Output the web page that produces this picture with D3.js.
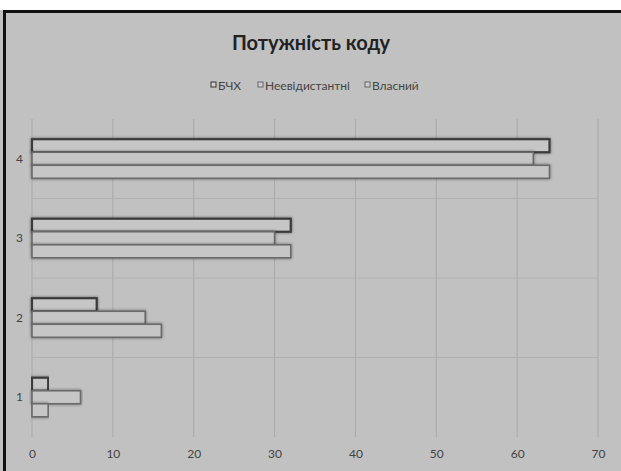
<!DOCTYPE html>
<html>
<head>
<meta charset="utf-8">
<script src="https://cdn.jsdelivr.net/npm/d3@7/dist/d3.min.js"></script>
<style>
  html, body { margin: 0; padding: 0; background: #ffffff; }
  svg { display: block; }
</style>
</head>
<body>
<script>
// Code power by category
const categories = ["4", "3", "2", "1"];
const seriesNames = ["БЧХ", "Неевідистантні", "Власний"];
const bchValues = [64, 32, 8, 2];
const nonEquidistantValues = [62, 30, 14, 6];
const ownValues = [64, 32, 16, 2];
const xTicks = [0, 10, 20, 30, 40, 50, 60, 70];

const seriesValues = [bchValues, nonEquidistantValues, ownValues];
const rows = [];
categories.forEach((c, ci) => {
  seriesNames.forEach((s, si) => rows.push({ cat: c, series: s, value: seriesValues[si][ci] }));
});

const W = 621, H = 471;
const svg = d3.select("body").append("svg").attr("width", W).attr("height", H);

const defs = svg.append("defs");
const glow = defs.append("filter").attr("id", "glow")
  .attr("x", "-5%").attr("y", "-40%").attr("width", "110%").attr("height", "180%");
glow.append("feGaussianBlur").attr("in", "SourceAlpha").attr("stdDeviation", 1.8).attr("result", "b");
glow.append("feComponentTransfer").attr("in", "b").attr("result", "s")
  .append("feFuncA").attr("type", "linear").attr("slope", 0.5);
const merge = glow.append("feMerge");
merge.append("feMergeNode").attr("in", "s");
merge.append("feMergeNode").attr("in", "SourceGraphic");

// frame
svg.append("rect").attr("x", 0).attr("y", 10).attr("width", W).attr("height", H - 10).attr("fill", "#c1c1c1");
svg.append("line").attr("x1", 3).attr("x2", W).attr("y1", 11.5).attr("y2", 11.5).attr("stroke", "#111").attr("stroke-width", 3);
svg.append("line").attr("x1", 4.5).attr("x2", 4.5).attr("y1", 10).attr("y2", H).attr("stroke", "#111").attr("stroke-width", 3);

const x = d3.scaleLinear().domain([0, 70]).range([32, 598]);
const y = d3.scaleBand().domain(categories).range([119, 437]).paddingInner(0).paddingOuter(0);
const ySub = d3.scaleBand().domain(seriesNames).range([0, y.bandwidth()]).paddingInner(0).paddingOuter(1.55);

// grid
const g = svg.append("g");
g.selectAll("line.v").data(xTicks).join("line")
  .attr("x1", d => x(d)).attr("x2", d => x(d))
  .attr("y1", 119).attr("y2", 437)
  .attr("stroke", "#a9a9a9").attr("stroke-width", 1);
g.selectAll("line.h").data(categories.slice(1)).join("line")
  .attr("x1", 32).attr("x2", 598)
  .attr("y1", d => y(d)).attr("y2", d => y(d))
  .attr("stroke", "#b0b0b0").attr("stroke-width", 1);

// bars
const strokeColor = { "БЧХ": "#3a3a3a", "Неевідистантні": "#6a6a6a", "Власний": "#6a6a6a" };
const strokeW = { "БЧХ": 2.2, "Неевідистантні": 1.6, "Власний": 1.6 };
svg.append("g").selectAll("rect").data(rows).join("rect")
  .attr("x", x(0))
  .attr("y", d => y(d.cat) + ySub(d.series))
  .attr("width", d => x(d.value) - x(0))
  .attr("height", ySub.bandwidth())
  .attr("fill", "#c6c6c6")
  .attr("stroke", d => strokeColor[d.series])
  .attr("stroke-width", d => strokeW[d.series])
  .attr("filter", "url(#glow)");

// axes
const font = "Lato, 'Open Sans', sans-serif";
const xAxis = svg.append("g").attr("transform", "translate(0,437)")
  .call(d3.axisBottom(x).tickValues(xTicks).tickSize(0).tickPadding(12));
xAxis.select(".domain").remove();
xAxis.selectAll("text").attr("font-family", font).attr("font-size", 12).attr("fill", "#444");

const yAxis = svg.append("g").attr("transform", "translate(32,0)")
  .call(d3.axisLeft(y).tickSize(0).tickPadding(9));
yAxis.select(".domain").remove();
yAxis.selectAll("text").attr("font-family", font).attr("font-size", 12).attr("fill", "#444");

// title
svg.append("text").attr("x", 311).attr("y", 50).attr("text-anchor", "middle")
  .attr("font-family", font).attr("font-weight", "bold").attr("font-size", 20)
  .attr("fill", "#222").text("Потужність коду");

// legend
const legendX = [217, 264, 371];
const lg = svg.append("g").selectAll("g").data(seriesNames).join("g")
  .attr("transform", (d, i) => `translate(${legendX[i]},90)`);
lg.append("rect").attr("x", -6).attr("y", -8).attr("width", 5).attr("height", 5)
  .attr("fill", "#cfcfcf").attr("stroke", (d, i) => i === 0 ? "#333" : "#666").attr("stroke-width", 1);
lg.append("text").attr("x", 1).attr("y", 0)
  .attr("font-family", font).attr("font-size", 12).attr("fill", "#444").text(d => d);
</script>
</body>
</html>
